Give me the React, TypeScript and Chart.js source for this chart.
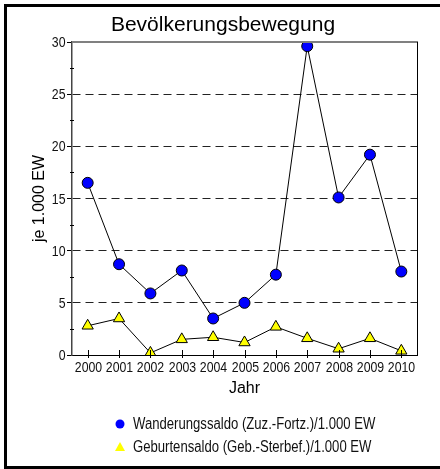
import React, { useEffect, useRef } from "react";
import { Chart, registerables } from "chart.js";

Chart.register(...registerables);

const years = ["2000", "2001", "2002", "2003", "2004", "2005", "2006", "2007", "2008", "2009", "2010"];
const wanderungssaldo = [16.5, 8.7, 5.9, 8.1, 3.5, 5.0, 7.7, 29.6, 15.1, 19.2, 8.0];
const geburtensaldo = [2.8, 3.5, 0.2, 1.5, 1.7, 1.2, 2.7, 1.6, 0.6, 1.6, 0.4];
const yTickLabels = ["0", "5", "10", "15", "20", "25", "30"];
const seriesLabels = ["Wanderungssaldo (Zuz.-Fortz.)/1.000 EW", "Geburtensaldo (Geb.-Sterbef.)/1.000 EW"];
const titleText = "Bevölkerungsbewegung";
const yTitle = "je 1.000 EW";
const xTitle = "Jahr";

const SANS = '"Liberation Sans", Arial, sans-serif';
const NARROW_SCALE = 0.82;

function narrowText(ctx: any, text: string, x: number, y: number, size: number, align: string) {
  ctx.save();
  ctx.font = `${size}px ${SANS}`;
  ctx.textAlign = align;
  ctx.textBaseline = "middle";
  ctx.translate(x, y);
  ctx.scale(NARROW_SCALE, 1);
  ctx.fillText(text, 0, 0);
  ctx.restore();
}

const framePlugin = {
  id: "framePlugin",
  afterDraw(chart: any) {
    const { ctx, chartArea } = chart;
    const { left, right, top, bottom } = chartArea;
    ctx.save();
    // chart title
    ctx.fillStyle = "#000";
    ctx.font = `21px ${SANS}`;
    ctx.textAlign = "center";
    ctx.textBaseline = "alphabetic";
    ctx.fillText(titleText, 223, 31);
    // top border (grey) and right border (black)
    ctx.strokeStyle = "#808080";
    ctx.lineWidth = 2;
    ctx.beginPath();
    ctx.moveTo(left, top);
    ctx.lineTo(right + 1, top);
    ctx.stroke();
    ctx.strokeStyle = "#000";
    ctx.lineWidth = 1;
    ctx.beginPath();
    ctx.moveTo(right + 0.5, top);
    ctx.lineTo(right + 0.5, bottom);
    ctx.stroke();
    // x ticks crossing bottom axis + labels
    const xs = chart.scales.x;
    ctx.fillStyle = "#111";
    years.forEach((lab, i) => {
      const px = Math.round(xs.getPixelForValue(i)) + 0.5;
      ctx.beginPath();
      ctx.moveTo(px, bottom - 5);
      ctx.lineTo(px, bottom + 3);
      ctx.stroke();
      narrowText(ctx, lab, px, bottom + 13, 15, "center");
    });
    // minor y ticks crossing left axis
    const ys = chart.scales.y;
    for (let v = 2.5; v < 30; v += 5) {
      const py = Math.round(ys.getPixelForValue(v)) + 0.5;
      ctx.beginPath();
      ctx.moveTo(left - 2, py);
      ctx.lineTo(left + 2, py);
      ctx.stroke();
    }
    // y labels
    yTickLabels.forEach((lab) => {
      const py = ys.getPixelForValue(Number(lab));
      narrowText(ctx, lab, left - 6.5, py + 1, 15, "right");
    });
    // legend
    const rows = [424, 447];
    const mx = 120;
    const tx = 133;
    chart.data.datasets.forEach((ds: any, i: number) => {
      const y = rows[i];
      ctx.fillStyle = ds.backgroundColor;
      ctx.beginPath();
      if (ds.pointStyle === "triangle") {
        ctx.moveTo(mx, y - 5);
        ctx.lineTo(mx + 5, y + 4);
        ctx.lineTo(mx - 5, y + 4);
        ctx.closePath();
      } else {
        ctx.arc(mx, y, 4.5, 0, Math.PI * 2);
      }
      ctx.fill();
      ctx.fillStyle = "#111";
      narrowText(ctx, ds.label, tx, y + 1, 16, "left");
    });
    ctx.restore();
  },
};

export default function App() {
  const ref = useRef<HTMLCanvasElement | null>(null);
  useEffect(() => {
    if (!ref.current) return;
    const chart = new Chart(ref.current, {
      type: "line",
      data: {
        labels: years,
        datasets: [
          {
            label: seriesLabels[0],
            data: wanderungssaldo,
            borderColor: "#000",
            borderWidth: 1,
            backgroundColor: "#0000ff",
            pointBackgroundColor: "#0000ff",
            pointBorderColor: "#000",
            pointBorderWidth: 1,
            pointRadius: 5.5,
            pointStyle: "circle",
            tension: 0,
          },
          {
            label: seriesLabels[1],
            data: geburtensaldo,
            borderColor: "#000",
            borderWidth: 1,
            backgroundColor: "#ffff00",
            pointBackgroundColor: "#ffff00",
            pointBorderColor: "#000",
            pointBorderWidth: 1,
            pointRadius: 6.5,
            pointStyle: "triangle",
            tension: 0,
          },
        ],
      },
      options: {
        responsive: false,
        animation: false,
        devicePixelRatio: 1,
        layout: { padding: { left: 8, right: 23, top: 42, bottom: 66.8 } },
        plugins: {
          legend: { display: false },
          tooltip: { enabled: false },
          title: { display: false },
        },
        scales: {
          x: {
            offset: true,
            grid: { display: false, drawTicks: false },
            border: { display: true, color: "#000", width: 1 },
            ticks: { display: false, autoSkip: false },
            title: {
              display: true,
              text: xTitle,
              color: "#000",
              font: { family: SANS, size: 16 },
              padding: { top: 24.4, bottom: 3.6 },
            },
          },
          y: {
            min: 0,
            max: 30,
            ticks: { display: false, stepSize: 5 },
            grid: {
              color: (c: any) => {
                const v = c.tick ? c.tick.value : 0;
                return v !== 0 && v !== 30 ? "#222" : "rgba(0,0,0,0)";
              },
              tickColor: "#000",
              tickLength: 5,
              lineWidth: 1,
            },
            border: { display: true, color: "#444", width: 1.5, dash: [8, 5] },
            title: {
              display: true,
              text: yTitle,
              color: "#000",
              font: { family: SANS, size: 16 },
              padding: { top: 22.4, bottom: 17.4 },
            },
          },
        },
      },
      plugins: [framePlugin],
    });
    return () => chart.destroy();
  }, []);
  return (
    <div style={{ position: "fixed", left: 0, top: 0, width: 440, height: 469, background: "#fff", overflow: "hidden" }}>
      <canvas ref={ref} width={440} height={469} style={{ position: "absolute", left: 0, top: 0 }} />
      <div
        style={{
          position: "absolute",
          left: 4,
          top: 4,
          width: 460,
          height: 465,
          boxSizing: "border-box",
          borderLeft: "3px solid #000",
          borderTop: "3px solid #000",
          borderBottom: "3px solid #000",
          pointerEvents: "none",
        }}
      />
    </div>
  );
}
